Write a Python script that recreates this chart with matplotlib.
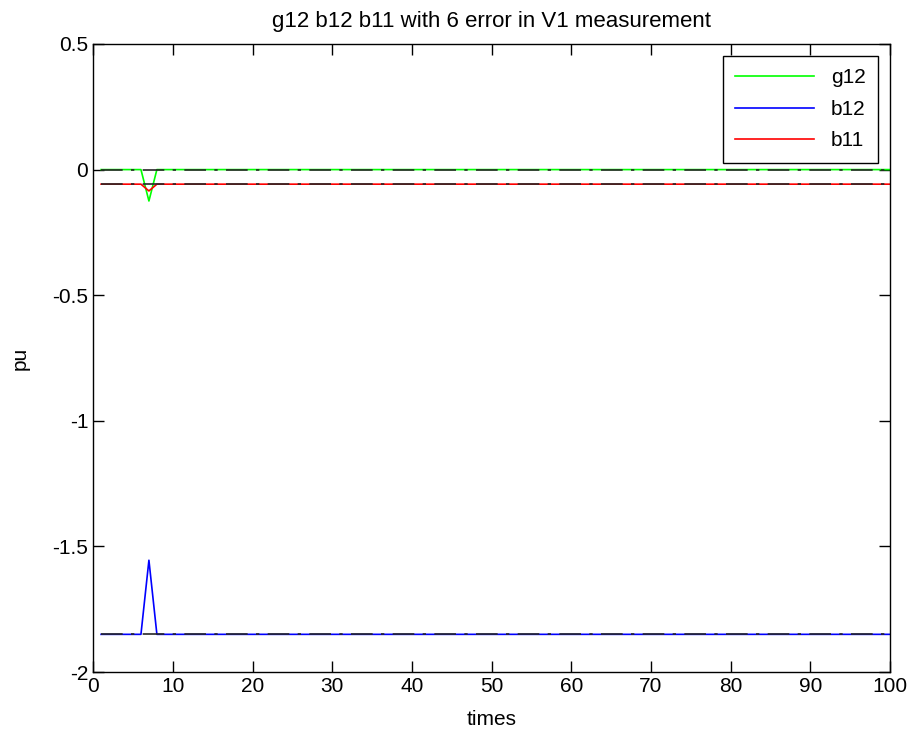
import matplotlib
matplotlib.use('Agg')
import matplotlib.pyplot as plt

# data
times = list(range(1, 101))
g12_base = 0.0
b12_base = -1.85
b11_base = -0.058
# deviation at the error sample
err_t = [6, 7, 8]
g12_err = [0.0, -0.125, 0.0]
b12_err = [-1.85, -1.555, -1.85]
b11_err = [-0.058, -0.085, -0.058]


def series(base, err):
    vals = [base] * len(times)
    for t, v in zip(err_t, err):
        vals[times.index(t)] = v
    return vals


g12 = series(g12_base, g12_err)
b12 = series(b12_base, b12_err)
b11 = series(b11_base, b11_err)

plt.rcParams['font.family'] = ['Liberation Sans', 'DejaVu Sans']
plt.rcParams['font.size'] = 14

fig = plt.figure(figsize=(9.13, 7.38), dpi=100)
ax = fig.add_axes([0.102, 0.0894, 0.873, 0.8510])

ax.plot(times, g12, color='#00ff00', lw=1.2, label='g12')
ax.plot(times, b12, color='#0000ff', lw=1.2, label='b12')
ax.plot(times, b11, color='#ff0000', lw=1.2, label='b11')

# true values, dashed black over the estimates
dash = (0, (13, 5, 2, 5))
for base in [g12_base, b11_base, b12_base]:
    ax.plot([times[0], times[-1]], [base, base], color='#262626', lw=1.2, linestyle=dash)

ax.set_xlim(0, 100)
ax.set_ylim(-2, 0.5)
ax.set_xticks(range(0, 101, 10))
ax.set_yticks([-2, -1.5, -1, -0.5, 0, 0.5])
ax.set_yticklabels(['-2', '-1.5', '-1', '-0.5', '0', '0.5'])
ax.tick_params(direction='in', length=8, top=True, right=True, width=1, labelsize=15)
for s in ax.spines.values():
    s.set_linewidth(1)

ax.set_title('g12 b12 b11 with 6 error in V1 measurement', fontsize=16, pad=12)
ax.set_xlabel('times', fontsize=15, labelpad=10)
ax.set_ylabel('pu', fontsize=15, labelpad=16)

leg = ax.legend(loc='upper right', bbox_to_anchor=(0.985, 0.981), borderaxespad=0,
                fancybox=False, edgecolor='black', framealpha=1, handlelength=3.8,
                borderpad=0.6, labelspacing=0.6, fontsize=15)
leg.get_frame().set_linewidth(1)

fig.savefig('out.png', dpi=100)
